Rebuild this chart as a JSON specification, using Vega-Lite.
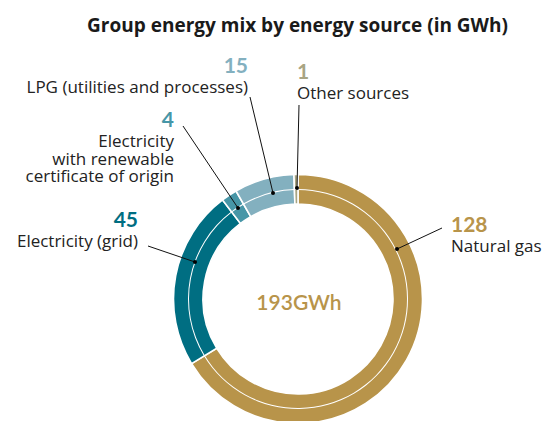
{
  "$schema": "https://vega.github.io/schema/vega-lite/v6.json",
  "width": 549,
  "height": 421,
  "autosize": {"type": "none"},
  "padding": 0,
  "background": "white",
  "config": {"view": {"stroke": null}, "font": "Lato"},
  "title": {
    "text": "Group energy mix by energy source (in GWh)",
    "anchor": "middle",
    "baseline": "alphabetic",
    "offset": -27,
    "dx": 23,
    "dy": 24,
    "font": "Open Sans",
    "fontSize": 19,
    "fontWeight": "bold",
    "color": "#1a1a1a"
  },
  "datasets": {
    "mix": [
      {"source": "Natural gas", "value": 128, "rank": 1},
      {"source": "Electricity (grid)", "value": 45, "rank": 2},
      {"source": "Electricity with renewable certificate of origin", "value": 4, "rank": 3},
      {"source": "LPG (utilities and processes)", "value": 15, "rank": 4},
      {"source": "Other sources", "value": 1, "rank": 5}
    ],
    "labels": [
      {"source": "Natural gas", "value": 128, "name": "Natural gas", "side": "left", "tx": 153, "ty": 47, "lx": 144, "ly": 71, "px": 99, "py": 50},
      {"source": "Electricity (grid)", "value": 45, "name": "Electricity (grid)", "side": "right", "tx": -160, "ty": 52, "lx": -150, "ly": 53, "px": -103, "py": 37},
      {"source": "Electricity with renewable certificate of origin", "value": 4, "name": "Electricity\nwith renewable\ncertificate of origin", "side": "right", "tx": -124, "ty": 152, "lx": -115, "ly": 173, "px": -60, "py": 91},
      {"source": "LPG (utilities and processes)", "value": 15, "name": "LPG (utilities and processes)", "side": "right", "tx": -50, "ty": 206, "lx": -48, "ly": 202, "px": -25, "py": 106},
      {"source": "Other sources", "value": 1, "name": "Other sources", "side": "left", "tx": -1, "ty": 200, "lx": 1, "ly": 194, "px": -1, "py": 111}
    ],
    "total": [{"label": "193GWh"}]
  },
  "layer": [
    {
      "data": {"name": "mix"},
      "mark": {"type": "arc", "radius": 124.5, "radius2": 95, "stroke": "white", "strokeWidth": 1.6},
      "encoding": {
        "x": {"datum": 0, "type": "quantitative", "scale": {"domain": [-298, 251], "zero": false, "nice": false}, "axis": null},
        "y": {"datum": 0, "type": "quantitative", "scale": {"domain": [-122, 299], "zero": false, "nice": false}, "axis": null},
        "theta": {"field": "value", "type": "quantitative", "stack": true},
        "order": {"field": "rank", "type": "quantitative"},
        "color": {
          "field": "source",
          "type": "nominal",
          "legend": null,
          "scale": {
            "domain": ["Natural gas", "Electricity (grid)", "Electricity with renewable certificate of origin", "LPG (utilities and processes)", "Other sources"],
            "range": ["#B8944A", "#006E82", "#4796A7", "#83B0BF", "#A9A583"]
          }
        }
      }
    },
    {
      "data": {"name": "mix"},
      "mark": {"type": "arc", "radius": 110, "radius2": 109, "fill": "white"},
      "encoding": {
        "x": {"datum": 0, "type": "quantitative"},
        "y": {"datum": 0, "type": "quantitative"},
        "theta": {"field": "value", "type": "quantitative", "stack": true},
        "order": {"field": "rank", "type": "quantitative"}
      }
    },
    {
      "data": {"name": "labels"},
      "mark": {"type": "rule", "color": "#111111", "strokeWidth": 1},
      "encoding": {
        "x": {"field": "lx", "type": "quantitative"},
        "y": {"field": "ly", "type": "quantitative"},
        "x2": {"field": "px"},
        "y2": {"field": "py"}
      }
    },
    {
      "data": {"name": "labels"},
      "mark": {"type": "point", "filled": true, "color": "#000000", "size": 16, "opacity": 1},
      "encoding": {
        "x": {"field": "px", "type": "quantitative"},
        "y": {"field": "py", "type": "quantitative"}
      }
    },
    {
      "data": {"name": "labels"},
      "transform": [{"filter": "datum.side === 'left'"}],
      "mark": {"type": "text", "align": "left", "baseline": "alphabetic", "dy": -20, "fontSize": 21, "fontWeight": "bold"},
      "encoding": {
        "x": {"field": "tx", "type": "quantitative"},
        "y": {"field": "ty", "type": "quantitative"},
        "text": {"field": "value"},
        "color": {"field": "source", "type": "nominal", "legend": null}
      }
    },
    {
      "data": {"name": "labels"},
      "transform": [{"filter": "datum.side === 'right'"}],
      "mark": {"type": "text", "align": "right", "baseline": "alphabetic", "dy": -20, "fontSize": 21, "fontWeight": "bold"},
      "encoding": {
        "x": {"field": "tx", "type": "quantitative"},
        "y": {"field": "ty", "type": "quantitative"},
        "text": {"field": "value"},
        "color": {"field": "source", "type": "nominal", "legend": null}
      }
    },
    {
      "data": {"name": "labels"},
      "transform": [{"filter": "datum.side === 'left'"}],
      "mark": {"type": "text", "align": "left", "baseline": "alphabetic", "font": "Open Sans", "fontSize": 17, "color": "#222222", "lineBreak": "\n", "lineHeight": 17.5},
      "encoding": {
        "x": {"field": "tx", "type": "quantitative"},
        "y": {"field": "ty", "type": "quantitative"},
        "text": {"field": "name"}
      }
    },
    {
      "data": {"name": "labels"},
      "transform": [{"filter": "datum.side === 'right'"}],
      "mark": {"type": "text", "align": "right", "baseline": "alphabetic", "font": "Open Sans", "fontSize": 17, "color": "#222222", "lineBreak": "\n", "lineHeight": 17.5},
      "encoding": {
        "x": {"field": "tx", "type": "quantitative"},
        "y": {"field": "ty", "type": "quantitative"},
        "text": {"field": "name"}
      }
    },
    {
      "data": {"name": "total"},
      "mark": {"type": "text", "align": "center", "baseline": "alphabetic", "fontSize": 21, "fontWeight": 600, "color": "#B8944A"},
      "encoding": {
        "x": {"datum": 1, "type": "quantitative"},
        "y": {"datum": -11, "type": "quantitative"},
        "text": {"field": "label"}
      }
    }
  ]
}
